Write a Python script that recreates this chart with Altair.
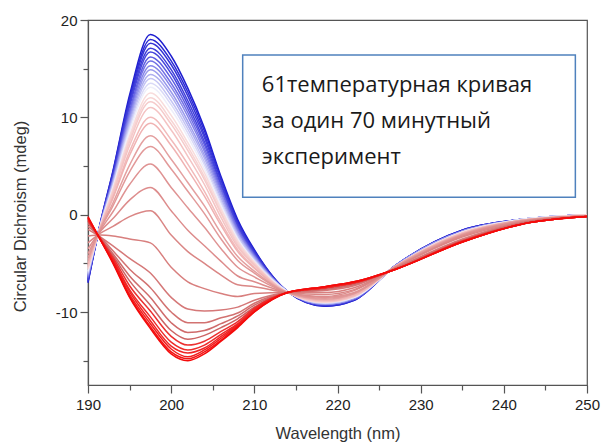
import altair as alt
import pandas as pd

wavelengths = [190, 191.5, 193, 195, 197.5, 200, 202, 204, 206, 208, 210, 214, 218.5, 222, 227, 235, 242, 250]

# CD (mdeg) of every spectrum (low temperature -> high temperature) at each wavelength
cd_190 = [-7.0, -6.9, -6.8, -6.7, -6.6, -6.5, -6.4, -6.3, -6.2, -6.1, -6.0, -5.9, -5.8, -5.6, -5.5, -5.4, -5.3, -5.1, -5.0, -4.7, -4.4, -4.0, -3.5, -2.9, -2.2, -1.5, -1.2, -0.9, -0.7, -0.6, -0.5, -0.4, -0.3, -0.3, -0.2]
cd_191_5 = [-0.8, -0.8, -0.9, -0.9, -0.9, -0.9, -1.0, -1.0, -1.0, -1.0, -1.1, -1.1, -1.1, -1.2, -1.2, -1.2, -1.3, -1.3, -1.3, -1.4, -1.5, -1.6, -1.7, -1.9, -2.1, -2.3, -2.3, -2.4, -2.5, -2.5, -2.5, -2.6, -2.6, -2.6, -2.6]
cd_193 = [4.5, 4.4, 4.2, 4.1, 3.9, 3.8, 3.6, 3.5, 3.4, 3.2, 3.1, 2.9, 2.8, 2.6, 2.5, 2.3, 2.1, 1.8, 1.7, 1.2, 0.9, 0.3, -0.4, -1.2, -2.2, -3.2, -3.7, -4.0, -4.2, -4.4, -4.6, -4.7, -4.8, -4.9, -5.0]
cd_195 = [12.3, 12.0, 11.7, 11.4, 11.1, 10.7, 10.4, 10.1, 9.8, 9.5, 9.2, 8.9, 8.6, 8.1, 7.8, 7.5, 7.1, 6.5, 6.1, 5.1, 4.4, 3.1, 1.5, -0.2, -2.5, -4.5, -5.6, -6.3, -6.8, -7.3, -7.7, -7.9, -8.2, -8.4, -8.5]
cd_197_5 = [18.5, 18.0, 17.6, 17.1, 16.7, 16.2, 15.8, 15.3, 14.9, 14.4, 14.0, 13.5, 13.1, 12.5, 12.0, 11.6, 11.0, 10.0, 9.4, 8.1, 7.0, 5.2, 2.8, 0.4, -2.9, -6.0, -7.5, -8.5, -9.3, -9.9, -10.5, -10.9, -11.2, -11.5, -11.7]
cd_200 = [16.3, 15.8, 15.4, 14.9, 14.5, 14.0, 13.5, 13.1, 12.6, 12.2, 11.7, 11.3, 10.8, 10.2, 9.7, 9.3, 8.7, 7.7, 7.1, 5.7, 4.7, 2.8, 0.4, -2.1, -5.4, -8.5, -10.0, -11.1, -11.9, -12.5, -13.1, -13.5, -13.8, -14.1, -14.3]
cd_202 = [13.0, 12.6, 12.2, 11.7, 11.3, 10.9, 10.5, 10.1, 9.6, 9.2, 8.8, 8.4, 8.0, 7.4, 7.0, 6.6, 6.0, 5.2, 4.6, 3.3, 2.4, 0.7, -1.6, -3.8, -6.9, -9.7, -11.1, -12.1, -12.8, -13.4, -13.9, -14.2, -14.6, -14.8, -15.0]
cd_204 = [8.9, 8.6, 8.2, 7.9, 7.5, 7.2, 6.8, 6.5, 6.1, 5.8, 5.4, 5.1, 4.7, 4.3, 3.9, 3.6, 3.1, 2.4, 1.9, 0.9, 0.1, -1.3, -3.2, -5.0, -7.6, -9.9, -11.1, -11.9, -12.4, -13.0, -13.4, -13.7, -13.9, -14.1, -14.3]
cd_206 = [3.9, 3.7, 3.5, 3.2, 3.0, 2.7, 2.5, 2.2, 2.0, 1.7, 1.4, 1.2, 0.9, 0.6, 0.3, 0.1, -0.3, -0.8, -1.1, -1.9, -2.5, -3.5, -4.8, -6.2, -8.1, -9.8, -10.6, -11.2, -11.6, -12.0, -12.3, -12.5, -12.7, -12.9, -13.0]
cd_208 = [-0.5, -0.7, -0.9, -1.0, -1.2, -1.4, -1.5, -1.7, -1.9, -2.0, -2.2, -2.4, -2.5, -2.7, -2.9, -3.1, -3.3, -3.6, -3.8, -4.3, -4.7, -5.4, -6.3, -7.2, -8.4, -9.5, -10.1, -10.4, -10.7, -11.0, -11.2, -11.3, -11.4, -11.5, -11.6]
cd_210 = [-3.6, -3.7, -3.8, -3.9, -4.0, -4.1, -4.2, -4.3, -4.4, -4.5, -4.6, -4.7, -4.8, -4.9, -5.0, -5.1, -5.2, -5.4, -5.5, -5.8, -6.0, -6.4, -6.9, -7.4, -8.1, -8.8, -9.1, -9.3, -9.5, -9.6, -9.7, -9.8, -9.9, -10.0, -10.0]
cd_214 = [-7.9, -7.9, -7.9, -7.9, -7.9, -7.9, -7.9, -7.9, -7.9, -7.9, -7.9, -7.9, -7.9, -8.0, -8.0, -8.0, -8.0, -8.0, -8.0, -8.0, -8.0, -8.0, -8.0, -8.0, -8.0, -8.0, -8.0, -8.0, -8.0, -8.0, -8.0, -8.0, -8.0, -8.0, -8.0]
cd_218_5 = [-9.4, -9.4, -9.3, -9.3, -9.3, -9.2, -9.2, -9.2, -9.2, -9.1, -9.1, -9.1, -9.0, -9.0, -9.0, -8.9, -8.9, -8.8, -8.8, -8.7, -8.6, -8.5, -8.4, -8.2, -8.0, -7.8, -7.7, -7.6, -7.6, -7.5, -7.5, -7.5, -7.4, -7.4, -7.4]
cd_222 = [-8.8, -8.8, -8.7, -8.7, -8.7, -8.7, -8.6, -8.6, -8.6, -8.5, -8.5, -8.5, -8.5, -8.4, -8.4, -8.4, -8.3, -8.3, -8.2, -8.1, -8.1, -8.0, -7.8, -7.7, -7.5, -7.3, -7.2, -7.1, -7.1, -7.0, -7.0, -7.0, -6.9, -6.9, -6.9]
cd_227 = [-5.2, -5.2, -5.2, -5.2, -5.2, -5.2, -5.2, -5.2, -5.2, -5.3, -5.3, -5.3, -5.3, -5.3, -5.3, -5.3, -5.3, -5.3, -5.3, -5.3, -5.4, -5.4, -5.4, -5.4, -5.5, -5.5, -5.5, -5.6, -5.6, -5.6, -5.6, -5.6, -5.6, -5.6, -5.6]
cd_235 = [-1.6, -1.6, -1.6, -1.7, -1.7, -1.7, -1.7, -1.7, -1.7, -1.8, -1.8, -1.8, -1.8, -1.8, -1.9, -1.9, -1.9, -1.9, -2.0, -2.0, -2.1, -2.1, -2.2, -2.3, -2.5, -2.6, -2.6, -2.7, -2.7, -2.7, -2.8, -2.8, -2.8, -2.8, -2.8]
cd_242 = [-0.5, -0.5, -0.5, -0.5, -0.5, -0.5, -0.5, -0.5, -0.5, -0.5, -0.5, -0.5, -0.5, -0.6, -0.6, -0.6, -0.6, -0.6, -0.6, -0.6, -0.7, -0.7, -0.7, -0.8, -0.8, -0.9, -0.9, -0.9, -1.0, -1.0, -1.0, -1.0, -1.0, -1.0, -1.0]
cd_250 = [0.0, 0.0, 0.0, 0.0, 0.0, 0.0, 0.0, 0.0, 0.0, 0.0, 0.0, 0.0, 0.0, 0.0, 0.0, 0.0, -0.1, -0.1, -0.1, -0.1, -0.1, -0.1, -0.1, -0.1, -0.1, -0.2, -0.2, -0.2, -0.2, -0.2, -0.2, -0.2, -0.2, -0.2, -0.2]

columns = [cd_190, cd_191_5, cd_193, cd_195, cd_197_5, cd_200, cd_202, cd_204, cd_206,
           cd_208, cd_210, cd_214, cd_218_5, cd_222, cd_227, cd_235, cd_242, cd_250]

x_ticks = [190, 195, 200, 205, 210, 215, 220, 225, 230, 235, 240, 245, 250]
y_ticks = [-15, -10, -5, 0, 5, 10, 15, 20]

note_lines = ["61температурная кривая", "за один 70 минутный", "эксперимент"]
note_x = [210.9, 210.9, 210.9]
note_y = [12.6, 8.95, 5.25]
box_x = [208.6, 248.6]
box_y = [1.8, 16.4]

rows = []
for w, col in zip(wavelengths, columns):
    for i, v in enumerate(col):
        rows.append({"wl": w, "cd": v, "curve": i})
df = pd.DataFrame(rows).sort_values(["curve", "wl"]).reset_index(drop=True)

color_stops = [0, 4, 8, 12, 13, 18, 19, 28, 29, 34]
color_values = ["#1e1ed0", "#4646dc", "#9a9aec", "#eeeefa", "#f8dcdc", "#f0b2b2", "#e4a0a0",
                "#cc6464", "#ec3030", "#f40a0a"]

FONT = "Arial"
major = "datum.value % 10 === 0"

lines = alt.Chart(df).mark_line(strokeWidth=1.5, interpolate="monotone").encode(
    x=alt.X("wl:Q",
            scale=alt.Scale(domain=[190, 250], nice=False, zero=False),
            axis=alt.Axis(values=x_ticks,
                          labelExpr="datum.value % 10 === 0 ? '' + datum.value : ''",
                          tickSize={"condition": {"test": major, "value": 8}, "value": 5},
                          title="Wavelength (nm)", titleFont=FONT, titleFontSize=16.5,
                          titleFontWeight="normal", titleColor="#333333",
                          titleY=53.5, titleBaseline="alphabetic",
                          labelFont=FONT, labelFontSize=15, labelColor="#222222",
                          labelPadding=4, labelFlush=False, labelOverlap=False,
                          domainColor="#555555", tickColor="#555555",
                          domainWidth=1.2, tickWidth=1.2, grid=False)),
    y=alt.Y("cd:Q",
            scale=alt.Scale(domain=[-17.5, 20], nice=False, zero=False),
            axis=alt.Axis(values=y_ticks,
                          labelExpr="datum.value % 10 === 0 ? '' + datum.value : ''",
                          tickSize={"condition": {"test": major, "value": 8}, "value": 5},
                          title="Circular Dichroism (mdeg)", titleFont=FONT, titleFontSize=16.5,
                          titleFontWeight="normal", titleColor="#333333",
                          titleX=-68, titleY=196, titleBaseline="middle",
                          labelFont=FONT, labelFontSize=15, labelColor="#222222",
                          labelPadding=3, labelOverlap=False,
                          domainColor="#555555", tickColor="#555555",
                          domainWidth=1.2, tickWidth=1.2, grid=False)),
    color=alt.Color("curve:Q", scale=alt.Scale(domain=color_stops, range=color_values), legend=None),
    detail="curve:N",
)

box_df = pd.DataFrame({"x1": [box_x[0]], "x2": [box_x[1]], "y1": [box_y[0]], "y2": [box_y[1]]})
box = alt.Chart(box_df).mark_rect(fill="white", stroke="#4f81bd", strokeWidth=1.5).encode(
    x=alt.X("x1:Q", title="Wavelength (nm)"), x2="x2:Q",
    y=alt.Y("y1:Q", title="Circular Dichroism (mdeg)"), y2="y2:Q",
)

text_df = pd.DataFrame({"x": note_x, "y": note_y, "t": note_lines})
text = alt.Chart(text_df).mark_text(align="left", baseline="alphabetic", font="Open Sans",
                                    fontSize=22, color="#1a1a1a").encode(
    x=alt.X("x:Q", title="Wavelength (nm)"),
    y=alt.Y("y:Q", title="Circular Dichroism (mdeg)"),
    text="t:N",
)

chart = alt.layer(lines, box, text).properties(
    width=499, height=365,
    padding={"left": 88, "top": 20, "right": 15, "bottom": 58},
    autosize=alt.AutoSizeParams(type="none"),
    background="white",
).configure_view(stroke="#555555", strokeWidth=1.2)

chart.save("out.html", embed_options={"renderer": "svg", "actions": False})
